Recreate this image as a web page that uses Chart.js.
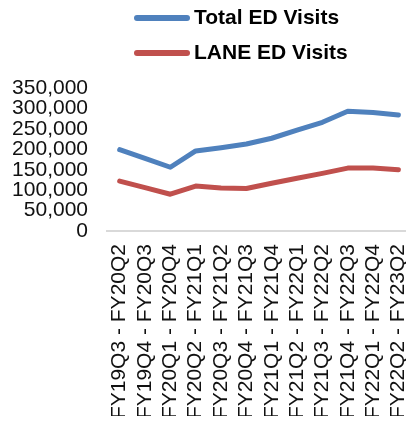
<!DOCTYPE html>
<html>
<head>
<meta charset="UTF-8">
<script src="https://cdn.jsdelivr.net/npm/chart.js@4"></script>
<style>
    html, body { margin: 0; padding: 0; background: #fff; overflow: hidden; }
    #wrap { width: 424px; height: 425px; }
</style>
</head>
<body>
<div id="wrap"><canvas id="edChart"></canvas></div>
<script>
// quarter windows (rolling 4 quarters)
const periods = [
    'FY19Q3 - FY20Q2', 'FY19Q4 - FY20Q3', 'FY20Q1 - FY20Q4', 'FY20Q2 - FY21Q1',
    'FY20Q3 - FY21Q2', 'FY20Q4 - FY21Q3', 'FY21Q1 - FY21Q4', 'FY21Q2 - FY22Q1',
    'FY21Q3 - FY22Q2', 'FY21Q4 - FY22Q3', 'FY22Q1 - FY22Q4', 'FY22Q2 - FY23Q2'
];
const totalVisits = [199000, 178000, 156000, 196000, 204000, 213000, 227000, 247000, 266000, 293000, 290000, 284000];
const laneVisits  = [122000, 106000, 90000, 110000, 105000, 104000, 117000, 129000, 141000, 154000, 154000, 150000];
const seriesNames = ['Total ED Visits', 'LANE ED Visits'];
const yTicks = [0, 50000, 100000, 150000, 200000, 250000, 300000, 350000];

// legend drawn by hand: stacked rows, left aligned
const stackedLegend = {
    id: 'stackedLegend',
    afterDraw(chart) {
        const ctx = chart.ctx;
        const rows = [18, 53];
        ctx.save();
        chart.data.datasets.forEach((ds, i) => {
            const y = rows[i];
            ctx.strokeStyle = ds.borderColor;
            ctx.lineWidth = 6;
            ctx.lineCap = 'round';
            ctx.beginPath();
            ctx.moveTo(137, y);
            ctx.lineTo(187, y);
            ctx.stroke();
            ctx.fillStyle = '#000';
            ctx.font = 'bold 21px Arial, "Liberation Sans", sans-serif';
            ctx.textBaseline = 'middle';
            ctx.textAlign = 'left';
            ctx.fillText(ds.label, 194, y);
        });
        ctx.restore();
    }
};

new Chart(document.getElementById('edChart'), {
    type: 'line',
    data: {
        labels: periods,
        datasets: [
            { label: seriesNames[0], data: totalVisits, borderColor: '#4F81BD' },
            { label: seriesNames[1], data: laneVisits, borderColor: '#C0504D' }
        ]
    },
    options: {
        responsive: true,
        maintainAspectRatio: false,
        animation: false,
        layout: { padding: { top: 88, left: 11, right: 0, bottom: 9 } },
        elements: {
            line: { borderWidth: 5, tension: 0, borderCapStyle: 'round', borderJoinStyle: 'round', fill: false },
            point: { radius: 0, hoverRadius: 0 }
        },
        plugins: {
            legend: { display: false },
            tooltip: { enabled: false }
        },
        scales: {
            x: {
                offset: true,
                grid: { display: false, drawTicks: false },
                border: { display: true, color: '#d9d9d9', width: 2 },
                afterFit(axis) { axis.height = 185; },
                ticks: {
                    minRotation: 90, maxRotation: 90, autoSkip: false, padding: 13,
                    color: '#111',
                    font: { family: 'Arial, "Liberation Sans", sans-serif', size: 21, lineHeight: 0.6 }
                }
            },
            y: {
                min: 0, max: 350000,
                grid: { display: false, drawTicks: false },
                border: { display: false },
                afterBuildTicks(axis) { axis.ticks = yTicks.map(v => ({ value: v })); },
                afterFit(axis) { axis.width = 96; },
                ticks: {
                    autoSkip: false,
                    padding: 19,
                    color: '#111',
                    font: { family: 'Arial, "Liberation Sans", sans-serif', size: 21 },
                    callback: v => v.toLocaleString('en-US')
                }
            }
        }
    },
    plugins: [stackedLegend]
});
</script>
</body>
</html>
